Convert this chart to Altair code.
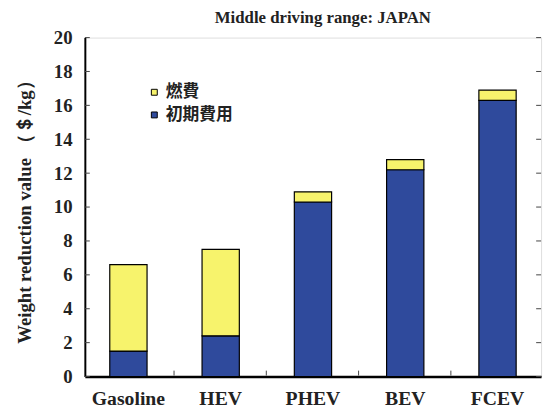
import altair as alt
import pandas as pd

categories = ["Gasoline", "HEV", "PHEV", "BEV", "FCEV"]
initial_cost = [1.5, 2.4, 10.3, 12.2, 16.3]   # 初期費用
fuel_cost = [5.1, 5.1, 0.6, 0.6, 0.6]         # 燃費
series_names = ["燃費", "初期費用"]
series_colors = ["#f7f36c", "#2f4a9c"]
y_ticks = [0, 2, 4, 6, 8, 10, 12, 14, 16, 18, 20]

rows = []
for c, ini, fu in zip(categories, initial_cost, fuel_cost):
    rows.append({"cat": c, "series": "初期費用", "value": ini, "ord": 0})
    rows.append({"cat": c, "series": "燃費", "value": fu, "ord": 1})
df = pd.DataFrame(rows)
ticks_df = pd.DataFrame({"t": y_ticks})
gaps_df = pd.DataFrame({"cat": categories[:-1]})

W, H = 463, 344
serif = "Liberation Serif"
y_title = "Weight reduction value （＄/kg）"
y_scale = alt.Scale(domain=[0, 20], nice=False)
y_axis = alt.Axis(values=y_ticks, grid=False, ticks=False, labelFont=serif,
                  labelFontSize=19, labelFontWeight="bold", labelColor="#222",
                  labelOverlap=False, labelPadding=13, titleFont=serif,
                  titleFontSize=19, titleFontWeight="bold", titleColor="#222",
                  titlePadding=19, domainColor="black", domainWidth=2)
x_scale = alt.Scale(domain=categories, paddingInner=0.596, paddingOuter=0.27)
x_axis = alt.Axis(labelAngle=0, labelFont=serif, labelFontSize=20,
                  labelFontWeight="bold", labelColor="#222", ticks=False,
                  labelPadding=12, domainColor="black", domainWidth=2.5)

bars = alt.Chart(df).mark_bar(stroke="black", strokeWidth=1.2).encode(
    x=alt.X("cat:N", sort=categories, title=None, scale=x_scale, axis=x_axis),
    y=alt.Y("value:Q", stack="zero", title=y_title, scale=y_scale, axis=y_axis),
    color=alt.Color("series:N", scale=alt.Scale(domain=series_names, range=series_colors),
                    legend=alt.Legend(title=None, orient="none", legendX=62, legendY=47,
                                      symbolType="square", symbolSize=36,
                                      symbolStrokeColor="black", symbolStrokeWidth=1,
                                      labelFont="Noto Sans CJK JP", labelFontSize=17,
                                      labelFontWeight="bold", labelColor="#222",
                                      rowPadding=5, symbolOffset=0, labelOffset=3)),
    order=alt.Order("ord:Q"),
)

left_ticks = alt.Chart(ticks_df).mark_rule(color="#444", strokeWidth=1).encode(
    y=alt.Y("t:Q", title=y_title, scale=y_scale, axis=y_axis), x=alt.value(0), x2=alt.value(5))
right_ticks = alt.Chart(ticks_df).mark_rule(color="#444", strokeWidth=1).encode(
    y=alt.Y("t:Q", title=y_title, scale=y_scale, axis=y_axis), x=alt.value(W - 5), x2=alt.value(W))
gap_ticks = alt.Chart(gaps_df).mark_rule(color="#444", strokeWidth=1, xOffset=W / 5 / 2).encode(
    x=alt.X("cat:N", sort=categories, title=None, scale=x_scale, axis=x_axis),
    y=alt.value(H - 1), y2=alt.value(H - 6))

chart = alt.layer(bars, left_ticks, right_ticks, gap_ticks).properties(
    width=W, height=H,
    title=alt.TitleParams("Middle driving range: JAPAN", font=serif, fontSize=17,
                          fontWeight="bold", color="#222", anchor="middle", dx=10, offset=2),
    autosize=alt.AutoSizeParams(type="none"),
    padding={"left": 78, "top": 27, "right": 5, "bottom": 35},
).configure_view(stroke="black", strokeWidth=1.8).configure(background="white")

chart.save("out.html", embed_options={"renderer": "svg", "actions": False})
